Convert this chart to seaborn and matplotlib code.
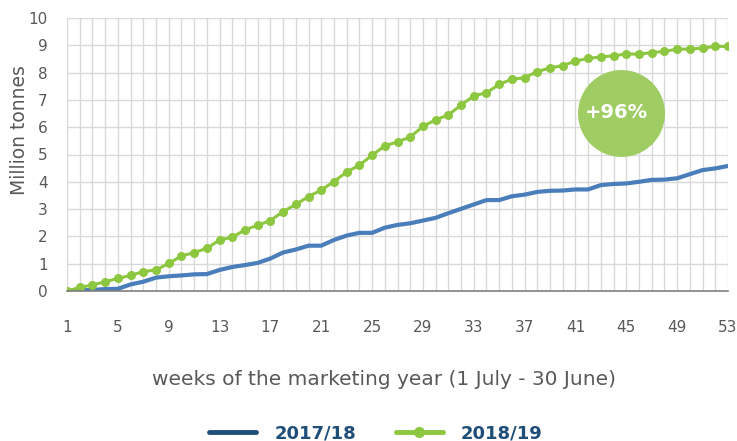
import numpy as np
import pandas as pd
import matplotlib
matplotlib.use("Agg")
import matplotlib.pyplot as plt
from matplotlib.lines import Line2D
import seaborn as sns

# weeks of the marketing year
weeks = list(range(1, 54))

# cumulative volumes, million tonnes
y2017 = [0.00, 0.02, 0.04, 0.07, 0.08, 0.24, 0.34, 0.49, 0.54, 0.57,
         0.61, 0.62, 0.77, 0.88, 0.95, 1.03, 1.19, 1.41, 1.52, 1.66,
         1.66, 1.87, 2.03, 2.13, 2.13, 2.32, 2.42, 2.48, 2.58, 2.68,
         2.85, 3.01, 3.17, 3.33, 3.33, 3.47, 3.53, 3.63, 3.67, 3.68,
         3.72, 3.72, 3.88, 3.92, 3.94, 4.00, 4.07, 4.08, 4.13, 4.28,
         4.43, 4.49, 4.58]
y2018 = [0.00, 0.13, 0.22, 0.34, 0.46, 0.57, 0.71, 0.77, 1.01, 1.28,
         1.41, 1.56, 1.87, 1.97, 2.24, 2.41, 2.58, 2.91, 3.17, 3.46,
         3.70, 4.01, 4.36, 4.61, 4.97, 5.32, 5.46, 5.64, 6.03, 6.27,
         6.45, 6.81, 7.15, 7.26, 7.57, 7.76, 7.81, 8.04, 8.17, 8.26,
         8.42, 8.52, 8.57, 8.62, 8.68, 8.68, 8.73, 8.78, 8.86, 8.86,
         8.90, 8.96, 8.96]

xticks = list(range(1, 54, 4))
yticks = list(range(0, 11))
series_names = ["2017/18", "2018/19"]
badge = "+96%"

sns.set_style("white")
plt.rcParams['font.family'] = ['DejaVu Sans']

fig = plt.figure(figsize=(7.37, 4.41), dpi=100)
ax = fig.add_axes([67/737, 1 - 291/441, 661/737, 273/441])

sns.lineplot(x=weeks, y=y2017, ax=ax, color="#4a7ebb", linewidth=3)
sns.lineplot(x=weeks, y=y2018, ax=ax, color="#8dc63f", linewidth=2.2,
             marker="o", markersize=6.5, markeredgewidth=0)

# badge
ax.scatter([44.6], [6.53], s=3920, color="#a0cd63", zorder=5, linewidths=0)
ax.text(44.2, 6.53, badge, color="white", fontsize=14, fontweight="bold",
        ha="center", va="center", zorder=6)

ax.set_xlim(1, 53)
ax.set_ylim(0, 10)
ax.set_xticks(weeks, minor=True)
ax.set_xticks(xticks)
ax.set_yticks(yticks)
ax.grid(True, which="both", color="#d9d9d9", linewidth=1)
ax.set_axisbelow(True)
for s in ["top", "right", "left"]:
    ax.spines[s].set_visible(False)
ax.spines["bottom"].set_color("#808080")
ax.spines["bottom"].set_linewidth(1.2)
ax.tick_params(axis="x", which="both", direction="out", length=7,
               color="#808080", width=1, pad=14, labelsize=11,
               labelcolor="#595959")
ax.tick_params(axis="y", length=0, labelsize=11, labelcolor="#595959", pad=14)

ax.set_xlabel("weeks of the marketing year (1 July - 30 June)",
              fontsize=14.5, color="#595959")
ax.xaxis.set_label_coords(0.48, -0.29)
ax.set_ylabel("Million tonnes", fontsize=13.5, color="#595959")
ax.yaxis.set_label_coords(-0.058, 0.59)

handles = [Line2D([], [], color="#1f4e79", linewidth=3.5),
           Line2D([], [], color="#8dc63f", linewidth=3.5, marker="o",
                  markersize=7)]
leg = fig.legend(handles, series_names, loc="center", ncol=2,
                 bbox_to_anchor=(0.51, 0.018), frameon=False,
                 handlelength=2.6, handletextpad=1.0, columnspacing=2.2,
                 prop={"weight": "bold", "size": 13})
for t in leg.get_texts():
    t.set_color("#1f4e79")

fig.savefig("out.png", dpi=100)
